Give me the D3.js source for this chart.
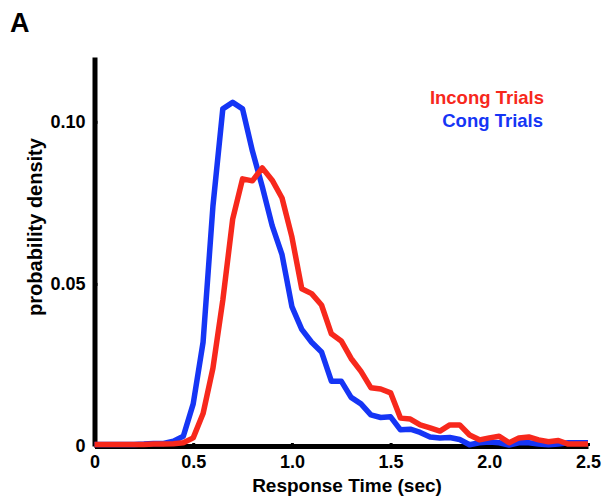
<!DOCTYPE html>
<html>
<head>
<meta charset="utf-8">
<script src="https://cdn.jsdelivr.net/npm/d3@7"></script>
<style>
  body { margin: 0; background: #fff; }
  svg text { font-family: "Liberation Sans", Arial, Helvetica, sans-serif; font-weight: bold; }
</style>
</head>
<body>
<script>
// response time bins (sec)
var times = [0, 0.05, 0.1, 0.15, 0.2, 0.25, 0.3, 0.35, 0.4, 0.45,
	0.5, 0.55, 0.6, 0.65, 0.7, 0.75, 0.8, 0.85, 0.9, 0.95,
	1.0, 1.05, 1.1, 1.15, 1.2, 1.25, 1.3, 1.35, 1.4, 1.45,
	1.5, 1.55, 1.6, 1.65, 1.7, 1.75, 1.8, 1.85, 1.9, 1.95,
	2.0, 2.05, 2.1, 2.15, 2.2, 2.25, 2.3, 2.35, 2.4, 2.45, 2.5];

// probability density, congruent trials (blue)
var congDensity = [0.0005, 0.0005, 0.0005, 0.0005, 0.0005, 0.0006, 0.0008, 0.0008, 0.0015, 0.003,
	0.013, 0.032, 0.074, 0.104, 0.106, 0.104, 0.091, 0.080, 0.068, 0.059,
	0.043, 0.036, 0.032, 0.029, 0.020, 0.020, 0.015, 0.013, 0.0096, 0.0088,
	0.009, 0.005, 0.0052, 0.0042, 0.0028, 0.0025, 0.0026, 0.002, 0.0004, 0.001,
	0.0012, 0.001, 0.0003, 0.001, 0.001, 0.0006, 0.0004, 0.0006, 0.001, 0.001, 0.001];

// probability density, incongruent trials (red)
var incongDensity = [0.0005, 0.0005, 0.0005, 0.0005, 0.0005, 0.0005, 0.0006, 0.0006, 0.0007, 0.001,
	0.0025, 0.010, 0.024, 0.045, 0.070, 0.0824, 0.0818, 0.0858, 0.082, 0.0765,
	0.0645, 0.0485, 0.047, 0.0435, 0.0346, 0.0324, 0.027, 0.023, 0.018, 0.0176,
	0.0164, 0.0086, 0.0083, 0.0065, 0.0056, 0.0046, 0.0065, 0.0065, 0.0034, 0.0019,
	0.0025, 0.003, 0.001, 0.0025, 0.0028, 0.0019, 0.0013, 0.0017, 0.0006, 0.0006, 0.0006];

// tick values
var xTicks = [0, 0.5, 1.0, 1.5, 2.0, 2.5];
var yTicks = [0, 0.05, 0.10];

var width = 605, height = 500;
var red = "#f7281c", blue = "#1535f5";

var svg = d3.select("body").append("svg")
	.attr("width", width)
	.attr("height", height);

var x = d3.scaleLinear().domain([0, 2.5]).range([94.5, 588]);
var y = d3.scaleLinear().domain([0, 0.12]).range([446, 57]);

// axes
var xAxis = svg.append("g")
	.attr("transform", "translate(0," + y(0) + ")")
	.call(d3.axisBottom(x).tickValues(xTicks).tickSize(-3).tickSizeOuter(0).tickPadding(9)
		.tickFormat(function (d) { return d === 0 ? "0" : d3.format(".1f")(d); }));

var yAxis = svg.append("g")
	.attr("transform", "translate(" + x(0) + ",0)")
	.call(d3.axisLeft(y).tickValues(yTicks).tickSize(-3).tickSizeOuter(0).tickPadding(9)
		.tickFormat(function (d) { return d === 0 ? "0" : d3.format(".2f")(d); }));

[xAxis, yAxis].forEach(function (g) {
	g.select(".domain").attr("stroke", "#000").attr("stroke-width", 5);
	g.selectAll(".tick line").attr("stroke", "#000").attr("stroke-width", 3);
	g.selectAll(".tick text").attr("fill", "#000").style("font-size", "18px");
});

// density curves
var line = d3.line()
	.x(function (d) { return x(d[0]); })
	.y(function (d) { return y(d[1]); });

function drawCurve(values, color) {
	svg.append("path")
		.datum(d3.zip(times, values))
		.attr("fill", "none")
		.attr("stroke", color)
		.attr("stroke-width", 5.5)
		.attr("stroke-linejoin", "round")
		.attr("d", line);
}
drawCurve(congDensity, blue);
drawCurve(incongDensity, red);

// labels
svg.append("text")
	.attr("x", 10).attr("y", 32)
	.style("font-size", "27px")
	.text("A");

svg.append("text")
	.attr("x", 347).attr("y", 492)
	.attr("text-anchor", "middle")
	.style("font-size", "19px")
	.text("Response Time (sec)");

svg.append("text")
	.attr("transform", "translate(42,227) rotate(-90)")
	.attr("text-anchor", "middle")
	.style("font-size", "20px")
	.text("probability density");

// legend
svg.append("text")
	.attr("x", 544).attr("y", 104)
	.attr("text-anchor", "end")
	.attr("fill", red)
	.style("font-size", "18.5px")
	.text("Incong Trials");

svg.append("text")
	.attr("x", 543).attr("y", 127)
	.attr("text-anchor", "end")
	.attr("fill", blue)
	.style("font-size", "18.5px")
	.text("Cong Trials");
</script>
</body>
</html>
